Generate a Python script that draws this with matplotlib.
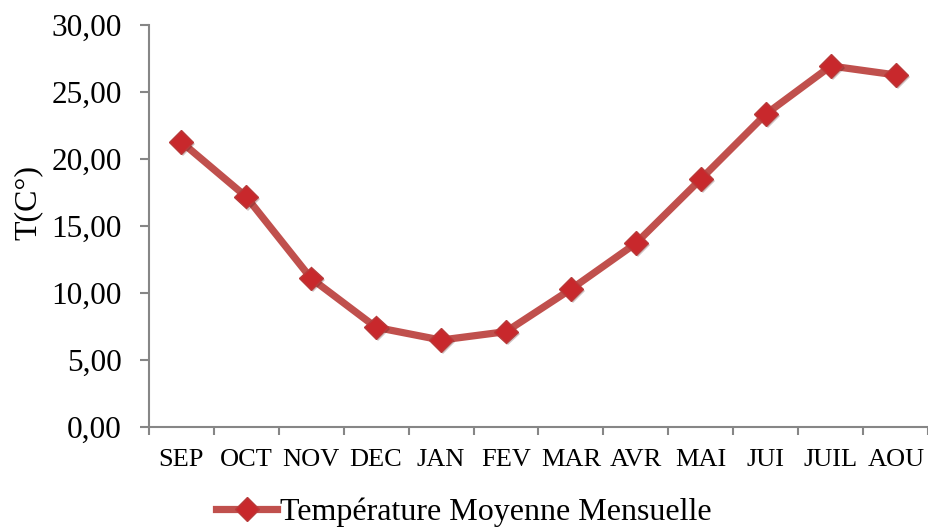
import matplotlib
matplotlib.use("Agg")
import matplotlib.pyplot as plt
import matplotlib.patheffects as pe
from matplotlib.lines import Line2D
from matplotlib.ticker import FixedLocator, FuncFormatter

months = ["SEP", "OCT", "NOV", "DEC", "JAN", "FEV", "MAR", "AVR", "MAI", "JUI", "JUIL", "AOU"]
temperature = [21.28, 17.18, 11.08, 7.42, 6.47, 7.10, 10.27, 13.70, 18.50, 23.35, 26.94, 26.27]
series_label = "Température Moyenne Mensuelle"
y_label = "T(C°)"
y_ticks = [0, 5, 10, 15, 20, 25, 30]

plt.rcParams["font.family"] = ["Liberation Serif", "DejaVu Serif"]

line_color = "#C0504D"
marker_color = "#C8282C"
spine_color = "#868686"

fig = plt.figure(figsize=(9.29, 5.29), dpi=100)
ax = fig.add_axes([0.1600, 0.1934, 0.8393, 0.7593])

x = list(range(len(months)))
shadow = [pe.SimplePatchShadow(offset=(1.5, -1.5), alpha=0.25), pe.Normal()]
ax.plot(x, temperature, color=line_color, linewidth=5.2, solid_joinstyle="round",
        solid_capstyle="round", zorder=2)
ax.plot(x, temperature, linestyle="none", marker="D", markersize=12,
        markerfacecolor=marker_color, markeredgecolor="#B83A3A", markeredgewidth=1.0,
        zorder=3, path_effects=shadow)

ax.set_xlim(-0.5, len(months) - 0.5)
ax.set_ylim(0, 30)
ax.set_yticks(y_ticks)
ax.yaxis.set_major_formatter(FuncFormatter(lambda v, p: f"{v:.2f}".replace(".", ",")))

ax.set_xticks(x)
ax.set_xticklabels(months)
ax.xaxis.set_minor_locator(FixedLocator([i - 0.5 for i in range(len(months) + 1)]))
ax.tick_params(axis="x", which="major", length=0, pad=16, labelsize=19)
ax.tick_params(axis="x", which="minor", length=6, width=1.5, color=spine_color)
ax.tick_params(axis="y", length=6.3, width=1.5, color=spine_color, pad=13, labelsize=22.5)

for side in ("top", "right"):
    ax.spines[side].set_visible(False)
for side in ("left", "bottom"):
    ax.spines[side].set_color(spine_color)
    ax.spines[side].set_linewidth(1.5)

fig.text(0.030, 1 - 203 / 529, y_label, rotation=90, ha="center", va="center", fontsize=23)

handle = Line2D([0], [0], color=line_color, linewidth=5.2, marker="D", markersize=12,
                markerfacecolor=marker_color, markeredgecolor="#B83A3A")
fig.legend([handle], [series_label], loc="center", bbox_to_anchor=(0.4995, 1 - 512 / 529),
           frameon=False, fontsize=23, handlelength=1.9, handletextpad=0.1,
           borderaxespad=0, borderpad=0)

fig.savefig("out.png", dpi=100)
